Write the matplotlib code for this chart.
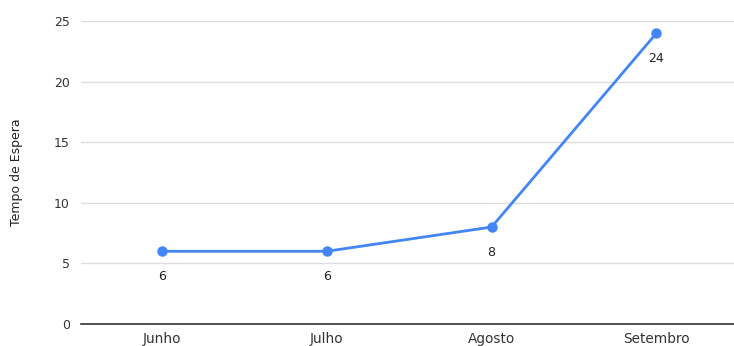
import matplotlib
matplotlib.use("Agg")
import matplotlib.pyplot as plt

categories = ["Junho", "Julho", "Agosto", "Setembro"]
values = [6, 6, 8, 24]
yticks = [0, 5, 10, 15, 20, 25]

plt.rcParams['font.family'] = ['DejaVu Sans']

fig = plt.figure(figsize=(7.34, 3.46), dpi=100)
ax = fig.add_axes([81/734, 22/346, (734-81)/734, 303/346])

x = list(range(len(categories)))
ax.plot(x, values, color="#4285F4", linewidth=2, marker="o", markersize=6.5, zorder=3, clip_on=False)
for xi, v in zip(x, values):
    ax.annotate(str(v), (xi, v), xytext=(0, -18), textcoords="offset points",
                ha="center", va="center", fontsize=9, color="#222222")

ax.set_xlim(-0.49, 3.47)
ax.set_ylim(0, 25)
ax.set_yticks(yticks)
ax.set_xticks(x)
ax.set_xticklabels(categories)
ax.grid(axis="y", color="#dddddd", linewidth=1)
ax.set_axisbelow(True)
for s in ["top", "right", "left"]:
    ax.spines[s].set_visible(False)
ax.spines["bottom"].set_color("#333333")
ax.spines["bottom"].set_linewidth(1.2)
ax.tick_params(axis="both", length=0, colors="#333333")
ax.tick_params(axis="y", pad=8, labelsize=9)
ax.tick_params(axis="x", pad=6, labelsize=9.8)
ax.set_ylabel("Tempo de Espera", fontsize=9, color="#222222", labelpad=22)

fig.savefig("out.png", dpi=100)
